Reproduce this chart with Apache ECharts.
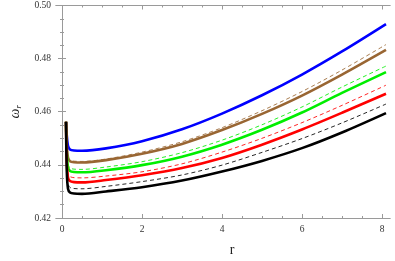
<!DOCTYPE html>
<html><head><meta charset="utf-8">
<script src="https://cdn.jsdelivr.net/npm/echarts@6/dist/echarts.min.js"></script>
<style>html,body{margin:0;padding:0;background:#fff}#c{width:395px;height:261px}</style>
</head><body><div id="c"></div>
<script>
const rValues      = [0.1, 0.12, 0.15, 0.2, 0.3, 0.5, 1.1, 2, 3, 4, 5, 6, 7, 8.1];
const blueSolid    = [0.4562, 0.4510, 0.4472, 0.4458, 0.4454, 0.4453, 0.4462, 0.4489, 0.4534, 0.4593, 0.4662, 0.4740, 0.4827, 0.4930];
const brownDashed  = [0.4562, 0.4480, 0.4432, 0.4417, 0.4414, 0.4413, 0.4422, 0.4448, 0.4487, 0.4540, 0.4604, 0.4676, 0.4757, 0.4853];
const brownSolid   = [0.4562, 0.4475, 0.4428, 0.4414, 0.4410, 0.4409, 0.4418, 0.4442, 0.4479, 0.4531, 0.4592, 0.4661, 0.4740, 0.4833];
const greenDashed  = [0.4562, 0.4455, 0.4402, 0.4388, 0.4384, 0.4383, 0.4392, 0.4412, 0.4446, 0.4493, 0.4551, 0.4618, 0.4693, 0.4772];
const greenSolid   = [0.4562, 0.4445, 0.4391, 0.4377, 0.4373, 0.4372, 0.4380, 0.4399, 0.4431, 0.4476, 0.4532, 0.4597, 0.4671, 0.4749];
const redDashed    = [0.4562, 0.4425, 0.4370, 0.4356, 0.4352, 0.4351, 0.4358, 0.4374, 0.4404, 0.4448, 0.4500, 0.4559, 0.4624, 0.4700];
const redSolid     = [0.4562, 0.4410, 0.4353, 0.4339, 0.4335, 0.4334, 0.4343, 0.4361, 0.4388, 0.4426, 0.4476, 0.4533, 0.4596, 0.4668];
const blackDashed  = [0.4562, 0.4390, 0.4329, 0.4315, 0.4311, 0.4310, 0.4319, 0.4337, 0.4362, 0.4399, 0.4447, 0.4499, 0.4558, 0.4629];
const blackSolid   = [0.4562, 0.4375, 0.4310, 0.4296, 0.4292, 0.4291, 0.4300, 0.4316, 0.4341, 0.4375, 0.4415, 0.4463, 0.4522, 0.4595];
const xTickLabels  = [0, 2, 4, 6, 8];
const xMinorTicks  = [0.5, 1, 1.5, 2.5, 3, 3.5, 4.5, 5, 5.5, 6.5, 7, 7.5];
const yTickLabels  = [0.42, 0.44, 0.46, 0.48, 0.50];

const pairs = a => rValues.map((r, i) => [r, a[i]]);
const mk = (data, color, dashed) => ({
  type: 'line', data: pairs(data), showSymbol: false, smooth: 0.3,
  xAxisIndex: 0, yAxisIndex: 0, animation: false,
  lineStyle: dashed ? {color, width: 1, type: [4, 3], opacity: 0.85} : {color, width: 2.6}
});
const frameColor = '#9a9a9a';
const serif = 'Liberation Serif, DejaVu Serif, serif';
const labelFont = {fontFamily: serif, fontSize: 9.5, color: '#333'};
const XMIN = -0.15, XMAX = 8.2;
const xAx = (pos, showLabel, ticks, len) => ({
  type: 'value', min: XMIN, max: XMAX, position: pos, gridIndex: 0,
  axisLine: {show: true, lineStyle: {color: frameColor, width: 1}},
  axisTick: {show: true, inside: true, length: len, customValues: ticks, lineStyle: {color: frameColor}},
  axisLabel: showLabel ? Object.assign({show: true, customValues: xTickLabels, margin: 6}, labelFont) : {show: false},
  splitLine: {show: false}
});
const yAx = (pos, showLabel) => ({
  type: 'value', min: 0.42, max: 0.50, interval: 0.02, position: pos, gridIndex: 0,
  axisLine: {show: true, lineStyle: {color: frameColor, width: 1}},
  axisTick: {show: true, inside: true, length: 4, lineStyle: {color: frameColor}},
  minorTick: {show: true, splitNumber: 4, length: 2, lineStyle: {color: frameColor}},
  axisLabel: showLabel ? Object.assign({show: true, margin: 5, formatter: v => v.toFixed(2)}, labelFont) : {show: false},
  splitLine: {show: false}, minorSplitLine: {show: false},
  name: showLabel ? '{w|ω}{s|r}' : '', nameLocation: 'middle', nameRotate: 90, nameGap: 33,
  nameTextStyle: {rich: {
    w: {fontFamily: serif, fontStyle: 'italic', fontSize: 14, color: '#222', lineHeight: 16, verticalAlign: 'middle'},
    s: {fontFamily: serif, fontStyle: 'italic', fontSize: 9, color: '#222', lineHeight: 16, verticalAlign: 'bottom'}}}
});

const chart = echarts.init(document.getElementById('c'), null, {renderer: 'canvas'});
chart.setOption({
  animation: false,
  grid: {left: 49, right: 5, top: 5.5, bottom: 43, containLabel: false},
  xAxis: [
    xAx('bottom', true, xTickLabels, 4),
    xAx('bottom', false, xMinorTicks, 2),
    xAx('top', false, xTickLabels, 4),
    xAx('top', false, xMinorTicks, 2)
  ],
  yAxis: [yAx('left', true), yAx('right', false)],
  series: [
    mk(blueSolid, '#0000ff', false),
    mk(brownDashed, '#996633', true),
    mk(brownSolid, '#996633', false),
    mk(greenDashed, '#00ee00', true),
    mk(greenSolid, '#00ee00', false),
    mk(redDashed, '#ff0000', true),
    mk(redSolid, '#ff0000', false),
    mk(blackDashed, '#000000', true),
    mk(blackSolid, '#000000', false)
  ],
  graphic: [
    {type: 'text', x: 232, y: 250,
     style: {text: 'r', fontFamily: serif, fontSize: 14, fill: '#222', align: 'center', verticalAlign: 'middle'}}
  ]
});
</script></body></html>
